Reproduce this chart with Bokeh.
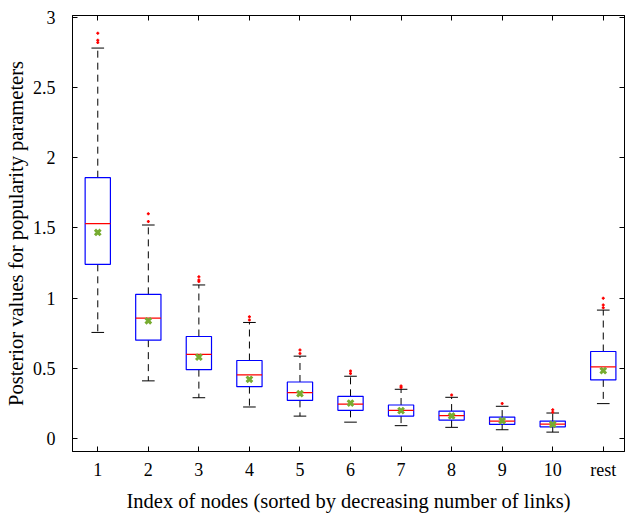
from bokeh.plotting import figure
from bokeh.models import ColumnDataSource, Range1d, LinearAxis, FixedTicker
from bokeh.embed import file_html
from bokeh.resources import INLINE

# ---- data ----
categories = ["1", "2", "3", "4", "5", "6", "7", "8", "9", "10", "rest"]
positions = [1, 2, 3, 4, 5, 6, 7, 8, 9, 10, 11]
q1 = [1.24, 0.70, 0.49, 0.369, 0.271, 0.200, 0.159, 0.131, 0.100, 0.083, 0.417]
median = [1.53, 0.857, 0.598, 0.452, 0.326, 0.245, 0.200, 0.162, 0.124, 0.102, 0.509]
q3 = [1.857, 1.026, 0.726, 0.555, 0.402, 0.300, 0.238, 0.195, 0.152, 0.124, 0.619]
mean = [1.467, 0.838, 0.579, 0.421, 0.319, 0.252, 0.198, 0.160, 0.126, 0.100, 0.483]
whisker_low = [0.755, 0.41, 0.29, 0.224, 0.159, 0.116, 0.091, 0.079, 0.062, 0.045, 0.248]
whisker_high = [2.78, 1.52, 1.093, 0.826, 0.586, 0.443, 0.350, 0.293, 0.229, 0.181, 0.914]
outliers = [
    [2.82, 2.835, 2.886],
    [1.545, 1.60],
    [1.117, 1.129, 1.152],
    [0.843, 0.866],
    [0.605, 0.629],
    [0.462, 0.481],
    [0.362, 0.374],
    [0.31],
    [0.248],
    [0.186, 0.205],
    [0.93, 0.95, 0.998],
]
y_ticks = [0, 0.5, 1, 1.5, 2, 2.5, 3]
y_tick_labels = ["0", "0.5", "1", "1.5", "2", "2.5", "3"]

FONT = "Liberation Serif"
BOX_W = 0.5
CAP_W = 0.25

p = figure(width=625, height=516, output_backend="svg", toolbar_location=None,
           x_range=Range1d(0.5, 11.42), y_range=Range1d(-0.093, 3.012),
           min_border_left=72, min_border_right=1, min_border_top=15, min_border_bottom=65)
p.grid.visible = False
p.background_fill_color = "white"
p.border_fill_color = "white"
p.outline_line_color = "black"
p.outline_line_width = 1

src = ColumnDataSource(dict(
    x=positions, q1=q1, q3=q3, med=median, mean=mean, lo=whisker_low, hi=whisker_high,
    xl=[v - BOX_W / 2 for v in positions], xr=[v + BOX_W / 2 for v in positions],
    cl=[v - CAP_W / 2 for v in positions], cr=[v + CAP_W / 2 for v in positions],
))

# whiskers (dashed)
p.segment(x0="x", y0="q3", x1="x", y1="hi", source=src, line_color="black", line_width=1, line_dash="7 5")
p.segment(x0="x", y0="q1", x1="x", y1="lo", source=src, line_color="black", line_width=1, line_dash="7 5")
# caps
p.segment(x0="cl", y0="hi", x1="cr", y1="hi", source=src, line_color="black", line_width=1)
p.segment(x0="cl", y0="lo", x1="cr", y1="lo", source=src, line_color="black", line_width=1)
# boxes
p.quad(left="xl", right="xr", bottom="q1", top="q3", source=src, fill_color=None,
       line_color="#0000ff", line_width=1.2)
# medians
p.segment(x0="xl", y0="med", x1="xr", y1="med", source=src, line_color="#ff0000", line_width=1.2)
# means
p.scatter(x="x", y="mean", source=src, marker="x", size=8, line_color="#77ac30", line_width=3)
# outliers
ox, oy = [], []
for xi, vals in zip(positions, outliers):
    for v in vals:
        ox.append(xi)
        oy.append(v)
p.scatter(x=ox, y=oy, marker="cross", size=3, line_color="#ff0000", line_width=1.5)

# axes styling
def style_axis(ax):
    ax.major_tick_in = 5
    ax.major_tick_out = 0
    ax.minor_tick_in = 0
    ax.minor_tick_out = 0
    ax.axis_line_color = "black"
    ax.major_tick_line_color = "black"
    ax.major_label_text_font = FONT
    ax.major_label_text_font_size = "18px"
    ax.major_label_text_color = "black"
    ax.axis_label_text_font = FONT
    ax.axis_label_text_font_style = "normal"
    ax.axis_label_text_font_size = "20.5px"
    ax.axis_label_text_color = "black"

xax = p.xaxis[0]
xax.ticker = FixedTicker(ticks=positions)
xax.major_label_overrides = {pos: lab for pos, lab in zip(positions, categories)}
xax.axis_label = "Index of nodes (sorted by decreasing number of links)"
style_axis(xax)
xax.major_label_standoff = 8
xax.axis_label_standoff = 7

yax = p.yaxis[0]
yax.ticker = FixedTicker(ticks=y_ticks)
yax.major_label_overrides = {t: l for t, l in zip(y_ticks, y_tick_labels)}
yax.axis_label = "Posterior values for popularity parameters"
style_axis(yax)
yax.major_label_standoff = 17
yax.axis_label_standoff = 3

top = LinearAxis(ticker=FixedTicker(ticks=positions))
style_axis(top)
top.major_label_overrides = {pos: "" for pos in positions}
top.major_label_standoff = 0
p.add_layout(top, "above")
right = LinearAxis(ticker=FixedTicker(ticks=y_ticks))
style_axis(right)
right.major_label_overrides = {t: "" for t in y_ticks}
right.major_label_standoff = 0
p.add_layout(right, "right")

open("out.html", "w").write(file_html(p, INLINE))
